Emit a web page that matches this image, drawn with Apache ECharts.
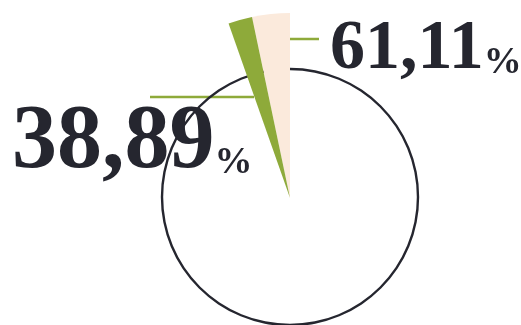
<!DOCTYPE html>
<html>
<head>
<meta charset="utf-8">
<script src="https://cdn.jsdelivr.net/npm/echarts@6/dist/echarts.min.js"></script>
<style>
  html, body { margin: 0; padding: 0; background: #fff; }
  #chart { width: 521px; height: 325px; }
</style>
</head>
<body>
<div id="chart"></div>
<script>
// data
var names = ['A', 'B'];
var shares = [61.11, 38.89];
var colors = ['#fbeadc', '#8eaa3a'];

var DARK = '#25262f', GREEN = '#8eaa3a';
var FONT = '"Liberation Serif", serif';

// label places (text anchor + leader line)
var labelPos = [
    { x: 330, y: 85, line: [[278, 39], [298, 39], [319, 39]] },
    { x: 12, y: 189, line: [[254, 97], [200, 97], [150, 97]] }
];
var numSize = [70, 90];
var pctSize = 38;

function fmt(v) {
    return v.toFixed(2).replace('.', ',');
}

var chart = echarts.init(document.getElementById('chart'));

var pieData = names.map(function (n, i) {
    var lift = Math.round((numSize[i] - pctSize) * 0.212) - 4;
    return {
        name: n,
        value: shares[i],
        itemStyle: { color: colors[i] },
        label: {
            formatter: '{n|' + fmt(shares[i]) + '}{p|%}',
            rich: {
                n: { fontSize: numSize[i], lineHeight: numSize[i], fontFamily: FONT, fontWeight: 'bold', color: DARK, verticalAlign: 'bottom' },
                p: { fontSize: pctSize, lineHeight: pctSize, fontFamily: FONT, fontWeight: 'bold', color: DARK, verticalAlign: 'bottom', padding: [0, 0, lift, 0] }
            }
        }
    };
});

chart.setOption({
    animation: false,
    series: [
        {
            // outline circle
            type: 'pie',
            center: [290, 197],
            radius: [126.8, 129.2],
            silent: true,
            label: { show: false },
            labelLine: { show: false },
            data: [{ value: 1, itemStyle: { color: DARK } }]
        },
        {
            type: 'pie',
            center: [290, 198],
            radius: [0, 185],
            startAngle: 90,
            endAngle: 109.4,
            clockwise: false,
            silent: true,
            label: { show: true, position: 'outside', overflow: 'none', width: 400 },
            labelLine: { show: true, lineStyle: { color: GREEN, width: 2.5 } },
            labelLayout: function (p) {
                var lp = labelPos[p.dataIndex];
                return {
                    x: lp.x, y: lp.y,
                    align: 'left', verticalAlign: 'bottom',
                    labelLinePoints: lp.line
                };
            },
            data: pieData
        }
    ]
});
</script>
</body>
</html>
